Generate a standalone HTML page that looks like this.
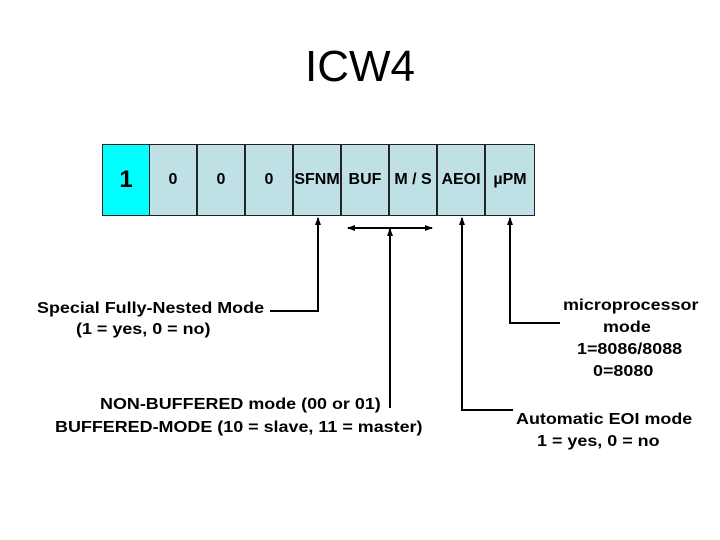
<!DOCTYPE html>
<html><head><style>
body{margin:0;width:720px;height:540px;background:#fff;position:relative;font-family:"Liberation Sans",sans-serif;overflow:hidden}
.t{position:absolute;font-weight:bold;font-size:16px;color:#000;white-space:nowrap;transform:scaleX(1.12);transform-origin:0 0}
.c{position:absolute;top:144px;height:72px;width:48px;box-sizing:border-box;border:1px solid #222;background:#bfe0e4;display:flex;align-items:center;justify-content:center;font-weight:bold;font-size:16px}
</style></head><body>
<div style="position:absolute;left:0;width:720px;top:42px;text-align:center;font-size:44px">ICW4</div>
<div class="c" style="left:102px;background:#00ffff;font-size:24px">1</div>
<div class="c" style="left:149px">0</div>
<div class="c" style="left:197px">0</div>
<div class="c" style="left:245px">0</div>
<div class="c" style="left:293px">SFNM</div>
<div class="c" style="left:341px">BUF</div>
<div class="c" style="left:389px">M / S</div>
<div class="c" style="left:437px">AEOI</div>
<div class="c" style="left:485px;width:50px">µPM</div>
<svg style="position:absolute;left:0;top:0" width="720" height="540">
<defs><marker id="a" markerWidth="8" markerHeight="8" refX="7" refY="4" orient="auto" markerUnits="userSpaceOnUse"><path d="M0,1 L8,4 L0,7z" fill="#000"/></marker></defs>
<g stroke="#000" stroke-width="2" fill="none">
<polyline points="270,311 318,311 318,218" marker-end="url(#a)"/>
<line x1="390" y1="228" x2="348" y2="228" marker-end="url(#a)"/>
<line x1="390" y1="228" x2="432" y2="228" marker-end="url(#a)"/>
<line x1="390" y1="408" x2="390" y2="229" marker-end="url(#a)"/>
<polyline points="513,410 462,410 462,218" marker-end="url(#a)"/>
<polyline points="560,323 510,323 510,218" marker-end="url(#a)"/>
</g></svg>
<div class="t" style="left:37px;top:300px">Special Fully-Nested Mode</div>
<div class="t" style="left:76px;top:321px">(1 = yes, 0 = no)</div>
<div class="t" style="left:100px;top:396px">NON-BUFFERED mode (00 or 01)</div>
<div class="t" style="left:55px;top:419px">BUFFERED-MODE (10 = slave, 11 = master)</div>
<div class="t" style="left:563px;top:297px">microprocessor</div>
<div class="t" style="left:603px;top:319px">mode</div>
<div class="t" style="left:577px;top:341px">1=8086/8088</div>
<div class="t" style="left:593px;top:363px">0=8080</div>
<div class="t" style="left:516px;top:411px">Automatic EOI mode</div>
<div class="t" style="left:537px;top:433px">1 = yes, 0 = no</div>
</body></html>
